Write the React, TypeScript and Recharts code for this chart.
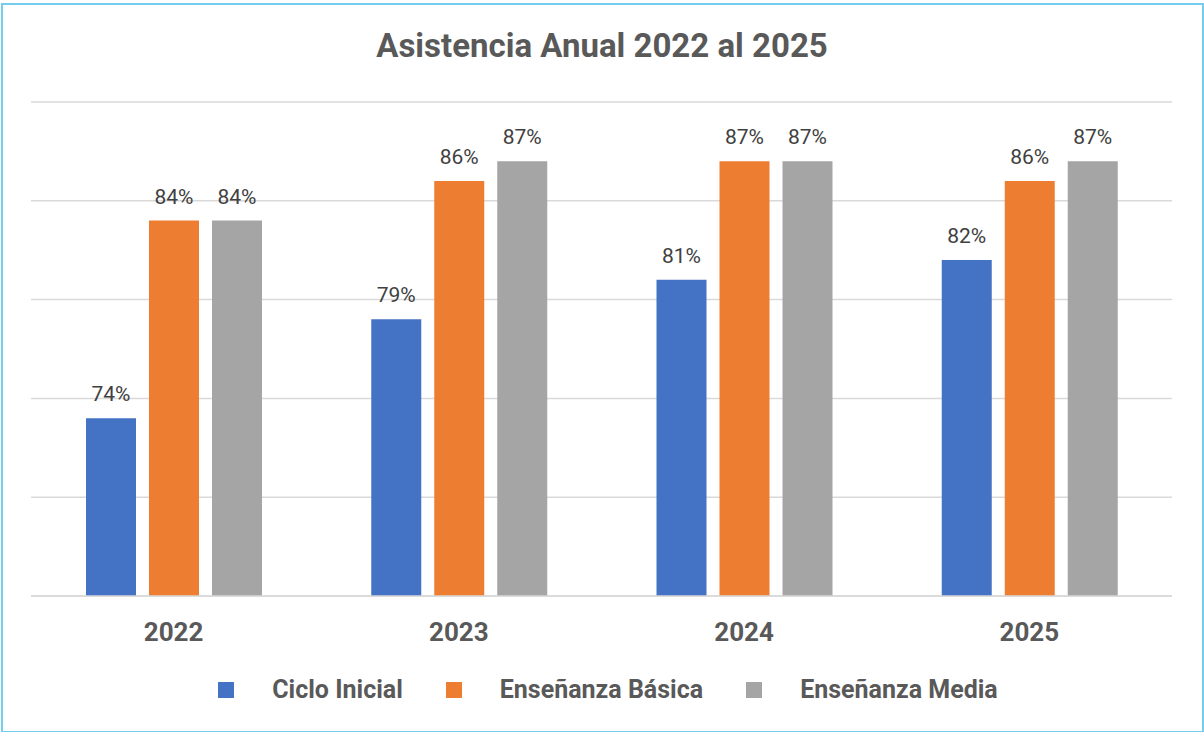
import React from "react";
import { Bar, BarChart, CartesianGrid, LabelList, XAxis, YAxis } from "recharts";

const years = ["2022", "2023", "2024", "2025"];
const cicloInicial = [74, 79, 81, 82];
const basica = [84, 86, 87, 86];
const media = [84, 87, 87, 87];
const yTicks = [65, 70, 75, 80, 85, 90];

const series = [
  { key: "ciclo", name: "Ciclo Inicial", color: "#4472C4" },
  { key: "basica", name: "Enseñanza Básica", color: "#ED7D31" },
  { key: "media", name: "Enseñanza Media", color: "#A5A5A5" },
];

const data = years.map((year, i) => ({
  year,
  ciclo: cicloInicial[i],
  basica: basica[i],
  media: media[i],
}));

const FONT = "Roboto, 'Open Sans', sans-serif";

export default function App() {
  return (
    <div
      style={{
        position: "absolute",
        left: 0,
        top: 0,
        width: 1204,
        height: 732,
        background: "#fff",
        fontFamily: FONT,
      }}
    >
      <div
        style={{
          position: "absolute",
          left: 1,
          top: 3,
          width: 1199,
          height: 726,
          border: "2px solid #72CDEE",
        }}
      />
      <div
        style={{
          position: "absolute",
          left: 0,
          top: 26,
          width: 1204,
          textAlign: "center",
          fontSize: 33,
          fontWeight: 700,
          color: "#595959",
          lineHeight: "40px",
        }}
      >
        Asistencia Anual 2022 al 2025
      </div>
      <div style={{ position: "absolute", left: 0, top: 0 }}>
        <BarChart
          width={1204}
          height={732}
          data={data}
          margin={{ top: 102, right: 32, bottom: 96, left: 31 }}
          barGap={13}
          barSize={50}
        >
          <CartesianGrid vertical={false} stroke="#D9D9D9" strokeWidth={1.5} />
          <YAxis hide domain={[65, 90]} ticks={yTicks} />
          <XAxis
            dataKey="year"
            height={40}
            axisLine={{ stroke: "#D9D9D9", strokeWidth: 1.5 }}
            tickLine={false}
            tick={{ fill: "#595959", fontSize: 26, fontWeight: 700, fontFamily: FONT }}
            tickMargin={21}
          />
          {series.map((s) => (
            <Bar key={s.key} dataKey={s.key} name={s.name} fill={s.color} isAnimationActive={false}>
              <LabelList
                dataKey={s.key}
                position="top"
                offset={17}
                formatter={(v: number) => `${v}%`}
                style={{ fill: "#404040", fontSize: 21, fontFamily: FONT }}
              />
            </Bar>
          ))}
        </BarChart>
      </div>
      <div
        style={{
          position: "absolute",
          left: 6,
          top: 674,
          width: 1204,
          display: "flex",
          justifyContent: "center",
          alignItems: "center",
          gap: 43,
        }}
      >
        {series.map((s) => (
          <div key={s.key} style={{ display: "flex", alignItems: "center" }}>
            <span style={{ width: 16, height: 16, background: s.color, marginRight: 38 }} />
            <span style={{ fontSize: 25, fontWeight: 700, color: "#595959", lineHeight: "32px" }}>
              {s.name}
            </span>
          </div>
        ))}
      </div>
    </div>
  );
}
